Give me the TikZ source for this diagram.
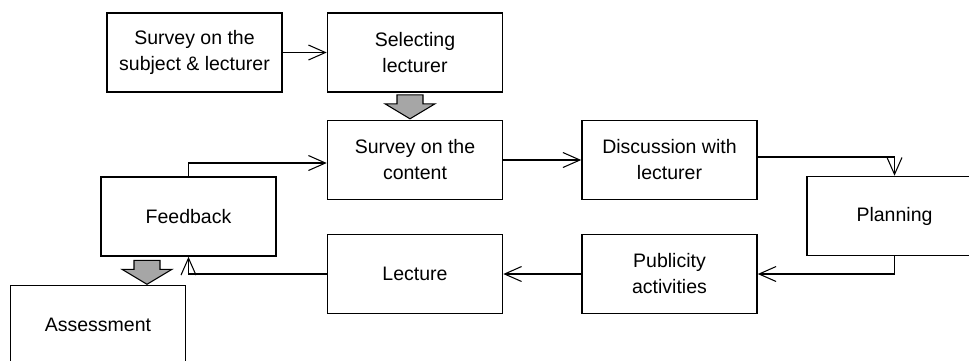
\documentclass[tikz,border=0pt]{standalone}
\usepackage{fontspec}
\setmainfont{Liberation Sans}
\usepackage{tikz}
\usetikzlibrary{arrows.meta,calc}
\definecolor{BlockGray}{HTML}{A6A6A6}

\begin{document}
\begin{tikzpicture}[x=0.02cm,y=-0.02cm,
  box/.style={draw,line width=0.9pt,minimum width=3.5cm,minimum height=1.58cm,inner sep=0pt,align=center,font=\fontsize{11.1}{14.8}\selectfont},
  link/.style={line width=0.6pt,-{Straight Barb[length=3.4mm,width=3mm]}},
  downarrow/.pic={\draw[fill=BlockGray,line width=0.6pt] (-13,0) -- (13,0) -- (13,9) -- (25,9) -- (0,24) -- (-25,9) -- (-13,9) -- cycle;}]
  \clip (0,0) rectangle (969,360);
  \node[box] (subject) at (194.5,52.5) {Survey on the\\subject \& lecturer};
  \node[box] (selecting) at (415,52.5) {Selecting\\lecturer};
  \node[box] (content) at (415,160) {Survey on the\\content};
  \node[box] (discussion) at (669.5,160) {Discussion with\\lecturer};
  \node[box] (planning) at (894.5,216) {Planning};
  \node[box] (publicity) at (669.5,274) {Publicity\\activities};
  \node[box] (lecture) at (415,274) {Lecture};
  \node[box] (feedback) at (188.5,216.5) {Feedback};
  \node[box] (assessment) at (98,325) {Assessment};
  \draw[link] (subject) -- (selecting);
  \draw[link] (content) -- (discussion);
  \draw[link] ([yshift=0.06cm]discussion.east) -| (planning.north);
  \draw[link] (planning.south) |- (publicity.east);
  \draw[link] (publicity) -- (lecture);
  \draw[link] (lecture.west) -| (feedback.south);
  \draw[link] (feedback.north) |- ([yshift=-0.06cm]content.west);
  \pic at ($(selecting.south)+(-5,2)$) {downarrow};
  \pic at ($(feedback.south)+(-41.5,3.5)$) {downarrow};
\end{tikzpicture}
\end{document}
